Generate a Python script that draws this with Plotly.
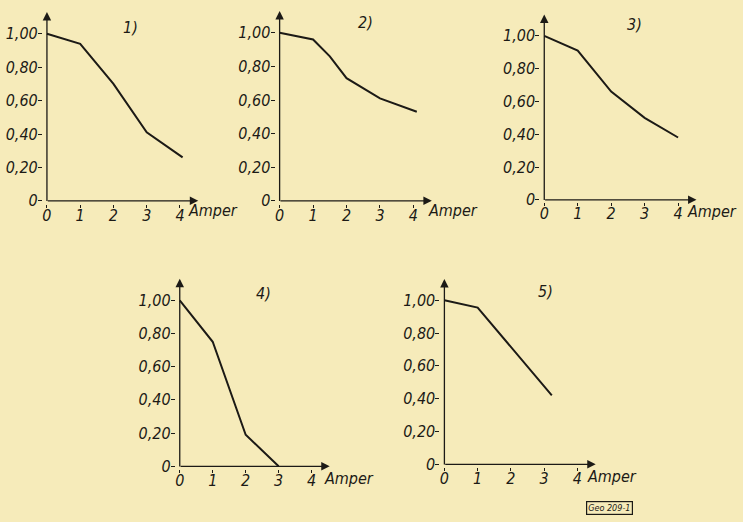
import plotly.graph_objects as go

W, H = 743, 522

# data (current in Ampere vs. relative value)
x1 = [0, 1, 2, 3, 4.08]
y1 = [1.00, 0.94, 0.70, 0.41, 0.26]
x2 = [0, 1, 1.5, 2, 3, 4.1]
y2 = [1.00, 0.96, 0.86, 0.73, 0.61, 0.53]
x3 = [0, 1, 2, 3, 4]
y3 = [1.00, 0.91, 0.66, 0.50, 0.38]
x4 = [0, 1, 2, 3]
y4 = [1.00, 0.75, 0.19, 0.00]
x5 = [0, 1, 3.23]
y5 = [1.00, 0.955, 0.42]
titles = ["1)", "2)", "3)", "4)", "5)"]
xticks = [0, 1, 2, 3, 4]
yticks = [0, 0.2, 0.4, 0.6, 0.8, 1.0]
yticklabels = ["0", "0,20", "0,40", "0,60", "0,80", "1,00"]
unit = "Amper"
stamp = "Geo 209-1"

series = [(x1, y1), (x2, y2), (x3, y3), (x4, y4), (x5, y5)]
# layout geometry (pixels): origin x, origin y, px per amp, px per unit
geom = [(46, 202, 33.3, 168), (279, 202, 33.5, 169), (544, 201, 33.5, 165),
        (179, 469, 33.0, 167), (444, 467, 33.3, 165)]
title_pos = [(130, 28), (365, 23), (634, 25), (263, 295), (545, 293)]
unit_pos = [(212, 212), (453, 212), (712, 213), (348, 481), (612, 479)]

XR = (-0.12, 4.7)
YR = (-0.04, 1.16)

ink = "#1c1a16"
bg = "#f6ebba"
FONT = "DejaVu Sans Condensed"

fig = go.Figure()
layout = dict(width=W, height=H, margin=dict(l=0, r=0, t=0, b=0),
              paper_bgcolor=bg, plot_bgcolor="rgba(0,0,0,0)", showlegend=False)
annotations = []
tf = dict(family=FONT, size=16, color=ink, style="italic")
for i, ((xs, ys), (ox, oy, sx, sy)) in enumerate(zip(series, geom)):
    n = "" if i == 0 else str(i + 1)
    x0p = ox + XR[0] * sx
    x1p = ox + XR[1] * sx
    y0p = oy - YR[0] * sy
    y1p = oy - YR[1] * sy
    layout["xaxis" + n] = dict(
        domain=[x0p / W, x1p / W], range=list(XR), anchor="y" + n,
        showgrid=False, zeroline=False, showline=False,
        tickmode="array", tickvals=xticks, ticktext=[str(t) for t in xticks],
        ticks="inside", ticklen=3, tickcolor=ink, tickwidth=1,
        ticklabelstandoff=-4, tickfont=tf,
    )
    layout["yaxis" + n] = dict(
        domain=[1 - y0p / H, 1 - y1p / H], range=list(YR), anchor="x" + n,
        showgrid=False, zeroline=False, showline=False,
        tickmode="array", tickvals=yticks, ticktext=yticklabels,
        ticks="outside", ticklen=4, tickcolor=ink, tickwidth=1,
        ticklabelstandoff=-3, tickfont=tf,
    )
    fig.add_trace(go.Scatter(x=xs, y=ys, mode="lines",
                             line=dict(color=ink, width=2),
                             xaxis="x" + n, yaxis="y" + n, hoverinfo="skip"))
    # axis arrows
    annotations.append(dict(x=4.55, y=0, ax=-0.02, ay=0, xref="x" + n, yref="y" + n,
                            axref="x" + n, ayref="y" + n, showarrow=True, text="",
                            arrowhead=2, arrowsize=1.3, arrowwidth=1.3, arrowcolor=ink))
    annotations.append(dict(x=0, y=1.13, ax=0, ay=-0.01, xref="x" + n, yref="y" + n,
                            axref="x" + n, ayref="y" + n, showarrow=True, text="",
                            arrowhead=2, arrowsize=1.3, arrowwidth=1.3, arrowcolor=ink))
    tx, ty = title_pos[i]
    annotations.append(dict(x=tx / W, y=1 - ty / H, xref="paper", yref="paper",
                            xanchor="center", yanchor="middle",
                            text=titles[i], showarrow=False, font=tf))
    ux, uy = unit_pos[i]
    annotations.append(dict(x=ux / W, y=1 - uy / H, xref="paper", yref="paper",
                            xanchor="center", yanchor="middle",
                            text=unit, showarrow=False, font=tf))

annotations.append(dict(x=609 / W, y=1 - 511 / H, xref="paper", yref="paper",
                        xanchor="center", yanchor="middle",
                        text=stamp, showarrow=False, borderwidth=1.2, bordercolor=ink,
                        borderpad=1, font=dict(family=FONT, size=9, color=ink, style="italic")))
layout["annotations"] = annotations
fig.update_layout(**layout)
fig.write_html("out.html", config={"displayModeBar": False},
               post_script="document.body.style.margin='0';document.body.style.background='%s';" % bg)
